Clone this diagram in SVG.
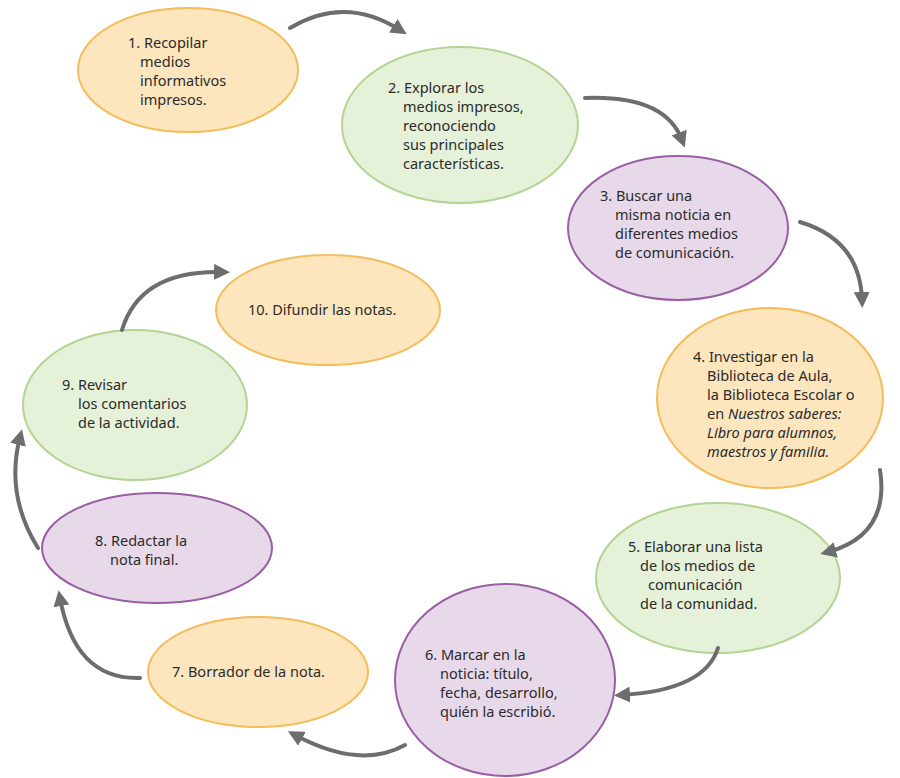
<svg xmlns="http://www.w3.org/2000/svg" width="900" height="778" viewBox="0 0 900 778">
<style>
.o{fill:#fde5bd;stroke:#f3bd5c;stroke-width:2}
.g{fill:#e6f1da;stroke:#b3d494;stroke-width:2}
.p{fill:#e7d9ea;stroke:#9a5ea4;stroke-width:2}
text{font-family:"Noto Sans","DejaVu Sans",sans-serif;font-size:14.5px;fill:#2b2b2b}
.c path{fill:none;stroke:#6d6d6d;stroke-width:4;stroke-linecap:round;marker-end:url(#a)}
</style>
<defs><marker id="a" viewBox="0 0 10 10" refX="5" refY="5" markerWidth="4" markerHeight="4" orient="auto"><path d="M0,0 L10,5 L0,10 Z" fill="#6d6d6d"/></marker></defs>
<rect width="900" height="778" fill="#fff"/>
<g id="n1"><ellipse class="o" cx="188" cy="70" rx="110" ry="62"/><text x="128" y="48">1. Recopilar</text><text x="140" y="67">medios</text><text x="140" y="86">informativos</text><text x="140" y="105">impresos.</text></g>
<g id="n2"><ellipse class="g" cx="460" cy="125" rx="118" ry="78"/><text x="388" y="93">2. Explorar los</text><text x="403" y="112">medios impresos,</text><text x="403" y="131">reconociendo</text><text x="403" y="150">sus principales</text><text x="403" y="169">características.</text></g>
<g id="n3"><ellipse class="p" cx="678" cy="228" rx="110" ry="72"/><text x="600" y="201">3. Buscar una</text><text x="615" y="220">misma noticia en</text><text x="615" y="239">diferentes medios</text><text x="615" y="258">de comunicación.</text></g>
<g id="n4"><ellipse class="o" cx="770" cy="398" rx="113" ry="90"/><text x="693" y="362">4. Investigar en la</text><text x="707" y="381">Biblioteca de Aula,</text><text x="707" y="400">la Biblioteca Escolar o</text><text x="707" y="419">en <tspan font-style="italic">Nuestros saberes:</tspan></text><text x="707" y="438" font-style="italic">Libro para alumnos,</text><text x="707" y="457" font-style="italic">maestros y familia.</text></g>
<g id="n5"><ellipse class="g" cx="718" cy="578" rx="122" ry="75"/><text x="628" y="552">5. Elaborar una lista</text><text x="640" y="571">de los medios de</text><text x="648" y="590">comunicación</text><text x="640" y="609">de la comunidad.</text></g>
<g id="n6"><ellipse class="p" cx="505" cy="680" rx="110" ry="96"/><text x="425" y="660">6. Marcar en la</text><text x="440" y="679">noticia: título,</text><text x="440" y="698">fecha, desarrollo,</text><text x="440" y="717">quién la escribió.</text></g>
<g id="n7"><ellipse class="o" cx="258" cy="672" rx="110" ry="55"/><text x="172" y="677">7. Borrador de la nota.</text></g>
<g id="n8"><ellipse class="p" cx="157" cy="548" rx="115" ry="55"/><text x="95" y="546">8. Redactar la</text><text x="110" y="565">nota final.</text></g>
<g id="n9"><ellipse class="g" cx="135" cy="405" rx="112" ry="75"/><text x="62" y="390">9. Revisar</text><text x="78" y="409">los comentarios</text><text x="78" y="428">de la actividad.</text></g>
<g id="n10"><ellipse class="o" cx="328" cy="310" rx="112" ry="55"/><text x="248" y="315">10. Difundir las notas.</text></g>
<g class="c">
<path d="M290,28 Q345,-5 400,30"/>
<path d="M585,98 Q665,95 682,140"/>
<path d="M800,222 Q860,240 862,300"/>
<path d="M880,470 Q890,535 828,552"/>
<path d="M718,648 Q705,690 622,695"/>
<path d="M405,745 Q360,770 295,735"/>
<path d="M140,678 Q75,680 60,598"/>
<path d="M38,548 Q5,495 20,437"/>
<path d="M122,330 Q140,270 222,272"/>
</g>
</svg>
